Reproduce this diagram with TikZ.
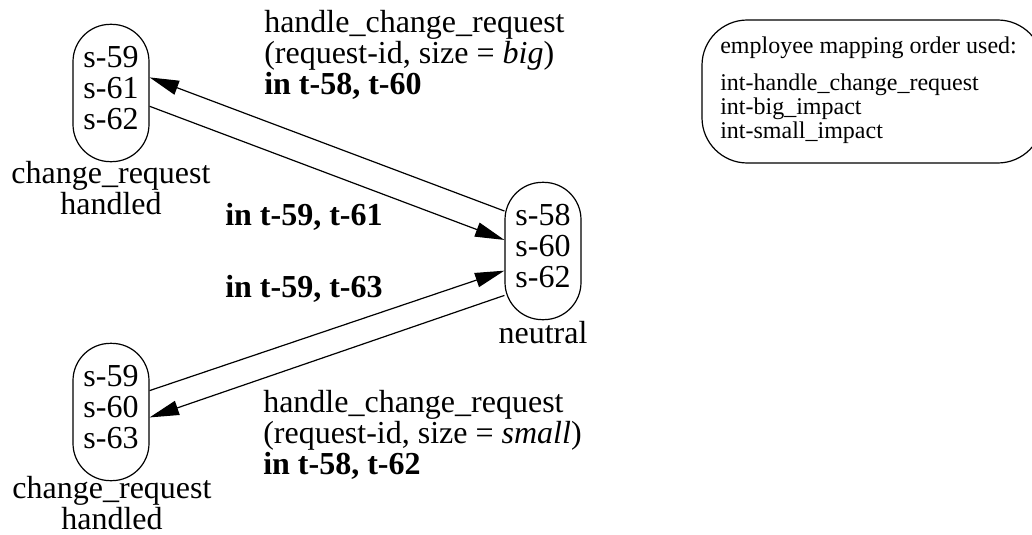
\documentclass[tikz,border=0pt]{standalone}
\usepackage{fontspec}
\setmainfont{Liberation Serif}
\usetikzlibrary{arrows.meta}

\begin{document}
\begin{tikzpicture}[x=0.75pt, y=-0.75pt,
	every node/.style={font=\fontsize{24}{23.25}\selectfont, inner sep=0pt},
	statebox/.style={draw, line width=0.9pt, rounded corners=28pt,
		minimum width=57pt, minimum height=103pt, text depth=8pt, align=center},
	trans/.style={line width=0.9pt, -{Triangle[length=22pt, width=11pt]}}]
				\useasboundingbox (0,0) rectangle (1032,535);
				\clip (0,0) rectangle (1032,535);
				
				% States
				\node[statebox] (sA) at (111,93) {s-59\\s-61\\s-62};
				\node[statebox] (sN) at (543,251) {s-58\\s-60\\s-62};
				\node[statebox] (sB) at (111,412) {s-59\\s-60\\s-63};
				
				% State names
				\node[anchor=north, align=center] (sAname) at (111,161)
				{change\_request\\handled};
				\node[anchor=base] (sNname) at (543,343) {neutral};
				\node[anchor=north, align=center] (sBname) at (112,476)
				{change\_request\\handled};
				
				% Transition labels
				\node[
				anchor=north west,
				align=left
				] (bigLbl) at (264,10)
				{handle\_change\_request\\(request-id, size = \textit{big})\\\textbf{in t-58, t-60}};
				
				\node[anchor=base west] (t61Lbl) at (225,225) {\textbf{in t-59, t-61}};
				\node[anchor=base west] (t63Lbl) at (225,297) {\textbf{in t-59, t-63}};
				
				\node[
				anchor=north west,
				align=left
				] (smallLbl) at (263,390)
				{handle\_change\_request\\(request-id, size = \textit{small})\\\textbf{in t-58, t-62}};
				
				% Transitions
				\draw[trans] (sN.134) -- (sA.22);
				\draw[trans] (sA.-19) -- (sN.164);
				\draw[trans] (sB.29) -- (sN.207);
				\draw[trans] (sN.229) -- (sB.-8);
				
				% Mapping order
				\node[
				draw,
				line width=0.9pt,
				rounded corners=34pt,
				minimum width=255.75pt,
				minimum height=107.25pt
				] (legend) at (872.5,91.5) {};
				
				\node[
				anchor=north west,
				align=left,
				font=\fontsize{18}{18}\selectfont
				] (legendTxt) at (720,37)
				{employee mapping order used:\\[9.75pt]int-handle\_change\_request\\int-big\_impact\\int-small\_impact};
			\end{tikzpicture}
\end{document}
